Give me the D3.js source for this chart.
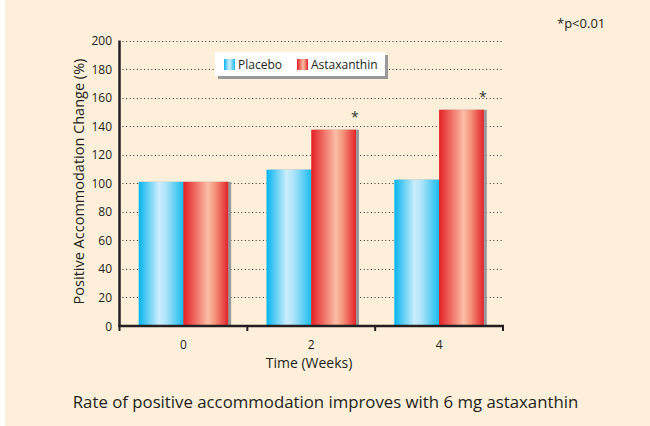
<!DOCTYPE html>
<html>
<head>
<meta charset="utf-8">
<script src="https://cdn.jsdelivr.net/npm/d3@7"></script>
<style>
  html, body { margin: 0; padding: 0; background: #fff; }
  svg { display: block; font-family: "Open Sans", "Noto Sans", sans-serif; }
</style>
</head>
<body>
<svg id="chart" width="650" height="426"></svg>
<script>
'use strict';

var weeks = ["0", "2", "4"],
    seriesNames = ["Placebo", "Astaxanthin"],
    placebo = [101, 109.5, 102.5],
    astaxanthin = [101, 137.5, 151.5],
    significant = [false, true, true],
    yTicks = [0, 20, 40, 60, 80, 100, 120, 140, 160, 180, 200];

var values = [placebo, astaxanthin];

var width = 650,
    height = 426,
    plotLeft = 119.5,
    plotRight = 503,
    plotTop = 40.5,
    plotBottom = 326;

var svg = d3.select("#chart");
var defs = svg.append("defs");

// bar gradients
var gradients = [
    [["0%", "#05b5ee"], ["45%", "#cbedfc"], ["60%", "#b0e4fa"], ["100%", "#1bbcef"]],
    [["0%", "#e41f26"], ["55%", "#fbbea5"], ["70%", "#f4967c"], ["100%", "#e5232a"]]
];
gradients.forEach(function (stops, i) {
    var g = defs.append("linearGradient")
        .attr("id", "grad" + i)
        .attr("x1", "0").attr("x2", "1").attr("y1", "0").attr("y2", "0");
    stops.forEach(function (s) {
        g.append("stop").attr("offset", s[0]).attr("stop-color", s[1]);
    });
});

//background
svg.append("rect")
    .attr("x", 5).attr("y", 0)
    .attr("width", width - 5).attr("height", height)
    .attr("fill", "#fdefda");

var x = d3.scaleBand()
    .domain(weeks)
    .range([plotLeft, plotRight])
    .paddingInner(0.3)
    .paddingOuter(0.15);

var xs = d3.scaleBand()
    .domain(seriesNames)
    .range([0, x.bandwidth()]);

var y = d3.scaleLinear()
    .domain([0, 200])
    .range([plotBottom, plotTop]);

//grid lines
svg.append("g")
    .selectAll("line")
    .data(yTicks.filter(function (d) { return d > 0; }))
    .join("line")
    .attr("x1", plotLeft + 3)
    .attr("x2", plotRight)
    .attr("y1", function (d) { return Math.round(y(d)) + 0.5; })
    .attr("y2", function (d) { return Math.round(y(d)) + 0.5; })
    .attr("stroke", "#2e2e2e")
    .attr("stroke-width", 1.2)
    .attr("stroke-dasharray", "1,2.6");

//bars with shadows
var groups = svg.append("g")
    .selectAll("g")
    .data(weeks)
    .join("g")
    .attr("transform", function (d) { return "translate(" + x(d) + ",0)"; });

groups.each(function (w, wi) {
    var g = d3.select(this);
    seriesNames.forEach(function (s, si) {
        var v = values[si][wi];
        g.append("rect")
            .attr("x", xs(s) + 3)
            .attr("y", y(v))
            .attr("width", xs.bandwidth())
            .attr("height", plotBottom - y(v))
            .attr("fill", "#98999b");
    });
    seriesNames.forEach(function (s, si) {
        var v = values[si][wi];
        g.append("rect")
            .attr("x", xs(s))
            .attr("y", y(v))
            .attr("width", xs.bandwidth())
            .attr("height", plotBottom - y(v))
            .attr("fill", "url(#grad" + si + ")");
    });
    if (significant[wi]) {
        g.append("text")
            .attr("x", xs("Astaxanthin") + xs.bandwidth() - 1)
            .attr("y", y(astaxanthin[wi]) - 8)
            .attr("text-anchor", "middle")
            .attr("font-size", 14)
            .attr("fill", "#2f3b34")
            .text("*");
    }
});

//axes
var axisColor = "#231f20";
svg.append("line")
    .attr("x1", plotLeft).attr("x2", plotLeft)
    .attr("y1", plotTop).attr("y2", plotBottom + 1)
    .attr("stroke", axisColor).attr("stroke-width", 2.5);
svg.append("line")
    .attr("x1", plotLeft - 1).attr("x2", plotRight + 1)
    .attr("y1", plotBottom).attr("y2", plotBottom)
    .attr("stroke", axisColor).attr("stroke-width", 2.5);

var bounds = weeks.map(function (d) { return x(d) - x.step() * x.paddingInner() / 2; });
bounds.push(plotRight);
svg.append("g")
    .selectAll("line")
    .data(bounds)
    .join("line")
    .attr("x1", function (d) { return d; })
    .attr("x2", function (d) { return d; })
    .attr("y1", plotBottom)
    .attr("y2", plotBottom + 5)
    .attr("stroke", axisColor)
    .attr("stroke-width", 2);

svg.append("g")
    .selectAll("text")
    .data(yTicks)
    .join("text")
    .attr("x", 112)
    .attr("y", function (d) { return y(d) + 4.5; })
    .attr("text-anchor", "end")
    .attr("font-size", 12)
    .attr("fill", axisColor)
    .text(function (d) { return d; });

svg.append("g")
    .selectAll("text")
    .data(weeks)
    .join("text")
    .attr("x", function (d) { return x(d) + x.bandwidth() / 2; })
    .attr("y", 349)
    .attr("text-anchor", "middle")
    .attr("font-size", 12)
    .attr("fill", axisColor)
    .text(function (d) { return d; });

svg.append("text")
    .attr("x", 309)
    .attr("y", 368)
    .attr("text-anchor", "middle")
    .attr("font-size", 14)
    .attr("fill", axisColor)
    .text("Time (Weeks)");

svg.append("text")
    .attr("transform", "translate(83.5,181.5) rotate(-90)")
    .attr("text-anchor", "middle")
    .attr("font-size", 14.5)
    .attr("fill", axisColor)
    .text("Positive Accommodation Change (%)");

//legend
var legend = svg.append("g").attr("transform", "translate(215,52)");
legend.append("rect")
    .attr("x", 3).attr("y", 3)
    .attr("width", 170).attr("height", 24)
    .attr("fill", "#98999b");
legend.append("rect")
    .attr("width", 170).attr("height", 24)
    .attr("fill", "#fff");
var legendX = [9, 82];
seriesNames.forEach(function (s, i) {
    legend.append("rect")
        .attr("x", legendX[i]).attr("y", 7)
        .attr("width", 11).attr("height", 11)
        .attr("fill", "url(#grad" + i + ")");
    legend.append("text")
        .attr("x", legendX[i] + 14)
        .attr("y", 17)
        .attr("font-size", 12)
        .attr("fill", axisColor)
        .text(s);
});

//notes
svg.append("text")
    .attr("x", 557)
    .attr("y", 28)
    .attr("font-size", 13)
    .attr("fill", axisColor)
    .text("*p<0.01");

svg.append("text")
    .attr("x", 325.5)
    .attr("y", 408)
    .attr("text-anchor", "middle")
    .attr("font-size", 16.8)
    .attr("fill", axisColor)
    .text("Rate of positive accommodation improves with 6 mg astaxanthin");
</script>
</body>
</html>
